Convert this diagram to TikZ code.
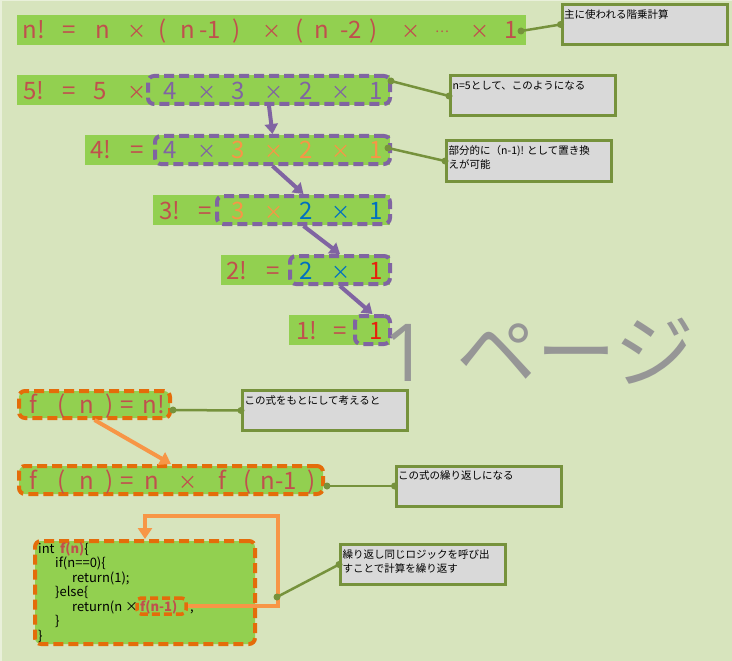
\documentclass[tikz,border=0pt]{standalone}
\usepackage{fontspec}
\setmainfont{Noto Sans CJK JP}
\newfontfamily\pagefont{Open Sans}
\usetikzlibrary{arrows.meta}
\definecolor{bg}{HTML}{D7E4BD}
\definecolor{bgedge}{HTML}{E9F0DA}
\definecolor{bargreen}{HTML}{92D050}
\definecolor{tbrown}{HTML}{C0504D}
\definecolor{tpurple}{HTML}{8064A2}
\definecolor{torange}{HTML}{F79646}
\definecolor{tblue}{HTML}{0070C0}
\definecolor{tred}{HTML}{E8200C}
\definecolor{dorange}{HTML}{E46C0A}
\definecolor{leadgreen}{HTML}{76923C}
\definecolor{notegray}{HTML}{D9D9D9}
\definecolor{wmgray}{HTML}{969696}
% smaller multiplication sign used inside the formulas
\newcommand{\mulsign}{{\fontsize{19}{19}\selectfont ×}}

\begin{document}
\begin{tikzpicture}[x=1pt,y=-1pt,
  bar/.style={fill=bargreen, inner sep=0, minimum height=30pt},
  tok/.style={font=\fontsize{24}{24}\selectfont, anchor=base, inner sep=0},
  pbox/.style={draw=tpurple, line width=4pt, dash pattern=on 10pt off 5pt,
    rounded corners=6pt, inner sep=0, minimum height=28pt},
  obox/.style={draw=dorange, line width=4pt, dash pattern=on 10pt off 5pt,
    rounded corners=6pt, inner sep=0},
  note/.style={draw=leadgreen, fill=notegray, line width=3pt, inner sep=0,
    minimum width=165pt, minimum height=40pt},
  notetext/.style={font=\fontsize{10.5}{14}\selectfont, anchor=north west,
    inner sep=0, align=left},
  lead/.style={draw=leadgreen, line width=2.5pt},
  leaddot/.style={fill=leadgreen},
  parrow/.style={draw=tpurple, line width=4pt, -{Triangle[length=10pt,width=13pt]}},
  oarrow/.style={draw=torange, line width=4pt, -{Triangle[length=11pt,width=14pt]}},
  code/.style={font=\fontsize{13}{13}\selectfont, anchor=base west, inner sep=0},
  wm/.style={text=wmgray, inner sep=0, anchor=base west},
]
% page background
\fill[bg] (0,0) rectangle (732,661);
\useasboundingbox (0,0) rectangle (732,661);
\draw[bgedge, line width=1.5pt] (0.75,661) -- (0.75,0.75) -- (732,0.75);

% ---------- factorial rows ----------
\node[bar, minimum width=509pt] (r1) at (271.5,30) {};
\node[bar, minimum width=373pt] (r2) at (203.5,90.5) {};
\node[bar, minimum width=305pt] (r3) at (237.5,150) {};
\node[bar, minimum width=237pt] (r4) at (271.5,210) {};
\node[bar, minimum width=169pt] (r5) at (305.5,270) {};
\node[bar, minimum width=101pt] (r6) at (339.5,330) {};

\foreach \x/\t/\c [count=\i] in {34/n!/tbrown, 69/=/tbrown, 103/n/tbrown,
    137/\mulsign/tbrown, 163/{(}/tbrown, 188/n/tbrown, 210/-1/tbrown, 237/{)}/tbrown,
    272/\mulsign/tbrown, 300/{(}/tbrown, 322/n/tbrown, 351/-2/tbrown, 374/{)}/tbrown,
    411/\mulsign/tbrown, 480/\mulsign/tbrown, 511/1/tbrown}
  \node[tok, text=\c] (ta\i) at (\x,39) {\t};
\node[tok, text=tbrown, font=\fontsize{13}{13}\selectfont] (ta0) at (442,33) {…};

\foreach \x/\t/\c [count=\i] in {34/5!/tbrown, 69/=/tbrown, 100/5/tbrown,
    137/\mulsign/tbrown, 170/4/tpurple, 207/\mulsign/tpurple, 238/3/tpurple,
    274/\mulsign/tpurple, 306/2/tpurple, 341/\mulsign/tpurple, 376/1/tpurple}
  \node[tok, text=\c] (tb\i) at (\x,99.5) {\t};

\foreach \x/\t/\c [count=\i] in {101/4!/tbrown, 137/=/tbrown, 170/4/tpurple,
    207/\mulsign/tpurple, 238/3/torange, 274/\mulsign/torange, 306/2/torange,
    341/\mulsign/torange, 376/1/torange}
  \node[tok, text=\c] (tc\i) at (\x,159) {\t};

\foreach \x/\t/\c [count=\i] in {170/3!/tbrown, 205/=/tbrown, 238/3/torange,
    274/\mulsign/torange, 306/2/tblue, 341/\mulsign/tblue, 376/1/tblue}
  \node[tok, text=\c] (td\i) at (\x,219) {\t};

\foreach \x/\t/\c [count=\i] in {237/2!/tbrown, 273/=/tbrown, 306/2/tblue,
    341/\mulsign/tblue, 376/1/tred}
  \node[tok, text=\c] (te\i) at (\x,279) {\t};

\foreach \x/\t/\c [count=\i] in {307/1!/tbrown, 340/=/tbrown, 376/1/tred}
  \node[tok, text=\c] (tf\i) at (\x,339) {\t};

% dashed groups
\node[pbox, minimum width=242pt] (b2) at (269,90) {};
\node[pbox, minimum width=235pt] (b3) at (272.5,150) {};
\node[pbox, minimum width=173pt] (b4) at (303.5,210) {};
\node[pbox, minimum width=100pt] (b5) at (340,270) {};
\node[pbox, minimum width=35pt]  (b6) at (372.5,330) {};

\draw[parrow] (b2.south) -- (b3.north);
\draw[parrow] (b3.south) -- (b4.north);
\draw[parrow] (b4.south) -- (b5.north);
\draw[parrow] (b5.south) -- (b6.north);

% ---------- f(n) rows ----------
\node[obox, fill=bargreen, minimum width=151pt, minimum height=27pt] (f7) at (94.5,404.5) {};
\node[obox, fill=bargreen, minimum width=304pt, minimum height=28pt] (f8) at (171,480) {};

\foreach \x/\t [count=\i] in {33/f, 62/{(}, 87/n, 110/{)}, 127/=, 154/n!}
  \node[tok, text=tbrown] (tg\i) at (\x,413.5) {\t};
\foreach \x/\t [count=\i] in {33/f, 62/{(}, 87/n, 110/{)}, 127/=, 152/n, 188/\mulsign,
    222/f, 248/{(}, 279/n-1, 312/{)}}
  \node[tok, text=tbrown] (th\i) at (\x,489) {\t};

\draw[oarrow] (f7.south) -- (f8.north);

% ---------- code ----------
\node[obox, fill=bargreen, minimum width=220pt, minimum height=103pt] (cb) at (145,592.5) {};
\node[code] (k1a) at (38,553) {int};
\node[code] (k1b) at (60,553) {{\color{tbrown}\bfseries f(n)}\{};
\node[code] (k2) at (55,567.5) {if(n==0)\{};
\node[code] (k3) at (72,582) {return(1);};
\node[code] (k4) at (55,596.5) {\}else\{};
\node[code] (k5a) at (72,611) {return(n ×};
\node[code, text=tbrown, font=\fontsize{13}{13}\selectfont\bfseries] (k5b) at (140,611) {f(n-1)};
\node[code] (k5c) at (190,611) {;};
\node[code] (k6) at (55,625.5) {\}};
\node[code] (k7) at (38,640) {\}};

\node[draw=dorange, line width=3.5pt, dash pattern=on 8pt off 4pt, rounded corners=4pt,
  inner sep=0, minimum width=49pt, minimum height=16pt] (sb) at (161.5,606) {};

\coordinate (loopTR) at (278,516);
\draw[oarrow] (sb.east) -| (loopTR) -| (cb.north);

% ---------- notes ----------
\coordinate (d1) at (521,31);
\coordinate (d2) at (391,81);
\coordinate (d3) at (388,148);
\coordinate (d4) at (173,410);
\coordinate (d5) at (327,486);
\coordinate (d6) at (277,597);

\node[note] (c1) at (644.5,24.5) {};
\node[note] (c2) at (533,96) {};
\node[note] (c3) at (529,161) {};
\node[note] (c4) at (325,410.5) {};
\node[note] (c5) at (478.5,486) {};
\node[note] (c6) at (423,564.5) {};

\foreach \n in {1,...,6}{
  \draw[lead] (d\n) -- (c\n.west);
  \fill[leaddot] (d\n) circle (3.5pt);
  \fill[leaddot] (c\n.west) circle (3.5pt);
}

\node[notetext] (n1) at ([xshift=3.5pt,yshift=-6pt]c1.north west) {主に使われる階乗計算};
\node[notetext] (n2) at ([xshift=3.5pt,yshift=-6pt]c2.north west) {n=5として、このようになる};
\node[notetext] (n3) at ([xshift=3.5pt,yshift=-6pt]c3.north west) {部分的に（n-1)! として置き換\\えが可能};
\node[notetext] (n4) at ([xshift=3.5pt,yshift=-6pt]c4.north west) {この式をもとにして考えると};
\node[notetext] (n5) at ([xshift=3.5pt,yshift=-6pt]c5.north west) {この式の繰り返しになる};
\node[notetext] (n6) at ([xshift=3.5pt,yshift=-6pt]c6.north west) {繰り返し同じロジックを呼び出\\すことで計算を繰り返す};

% ---------- page label ----------
\node[wm] (wm1) at (383,381) {\pagefont\fontsize{80}{80}\selectfont 1};
\node[wm] (wm2) at (456,381) {\fontsize{80}{80}\selectfont ページ};
\end{tikzpicture}
\end{document}
